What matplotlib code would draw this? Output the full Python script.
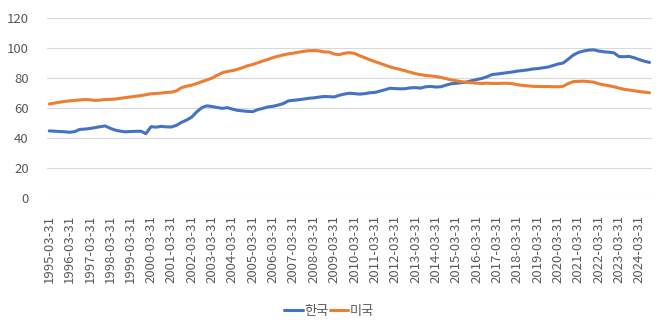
import matplotlib
matplotlib.use('Agg')
import matplotlib.pyplot as plt
import numpy as np

plt.rcParams['font.family'] = ['Noto Sans CJK KR', 'DejaVu Sans']

# quarterly dates 1995-03-31 ... 2024-09-30
quarters = [f'{y}-{md}' for y in range(1995, 2025) for md in ('03-31', '06-30', '09-30', '12-31')][:119]

korea = [
    44.8, 44.6, 44.4, 44.2,   # 1995
    43.9, 44.3, 45.8, 46.0,   # 1996
    46.4, 47.0, 47.6, 48.1,   # 1997
    46.5, 45.3, 44.6, 44.2,   # 1998
    44.4, 44.5, 44.6, 43.0,   # 1999
    47.6, 47.3, 47.8, 47.5,   # 2000
    47.4, 48.5, 50.5, 52.0,   # 2001
    54.0, 57.5, 60.3, 61.5,   # 2002
    61.0, 60.4, 59.8, 60.3,   # 2003
    59.3, 58.5, 58.1, 57.8,   # 2004
    57.6, 59.0, 59.8, 60.8,   # 2005
    61.2, 62.0, 63.0, 64.8,   # 2006
    65.2, 65.5, 66.0, 66.5,   # 2007
    66.8, 67.3, 67.7, 67.6,   # 2008
    67.4, 68.5, 69.3, 69.9,   # 2009
    69.6, 69.3, 69.6, 70.2,   # 2010
    70.4, 71.3, 72.2, 73.2,   # 2011
    73.0, 72.8, 72.9, 73.5,   # 2012
    73.6, 73.3, 74.2, 74.4,   # 2013
    74.0, 74.2, 75.3, 76.2,   # 2014
    76.5, 76.9, 77.3, 78.2,   # 2015
    79.0, 79.7, 80.8, 82.3,   # 2016
    82.7, 83.1, 83.6, 84.0,   # 2017
    84.6, 85.0, 85.4, 86.0,   # 2018
    86.3, 86.8, 87.3, 88.3,   # 2019
    89.3, 90.0, 92.5, 95.3,   # 2020
    97.0, 98.0, 98.6, 98.8,   # 2021
    98.0, 97.5, 97.2, 96.8,   # 2022
    94.3, 94.2, 94.4, 93.5,   # 2023
    92.3, 91.2, 90.4,         # 2024
]

usa = [
    62.7, 63.3, 63.9, 64.4,   # 1995
    64.8, 65.1, 65.4, 65.7,   # 1996
    65.5, 65.1, 65.3, 65.7,   # 1997
    65.8, 66.0, 66.5, 67.0,   # 1998
    67.4, 67.9, 68.3, 68.9,   # 1999
    69.5, 69.7, 70.0, 70.4,   # 2000
    70.6, 71.5, 73.6, 74.6,   # 2001
    75.3, 76.3, 77.6, 78.7,   # 2002
    80.0, 81.8, 83.5, 84.4,   # 2003
    84.9, 85.8, 86.9, 88.2,   # 2004
    89.0, 90.2, 91.4, 92.4,   # 2005
    93.6, 94.6, 95.4, 96.1,   # 2006
    96.6, 97.2, 97.8, 98.2,   # 2007
    98.3, 98.1, 97.4, 97.3,   # 2008
    96.0, 95.6, 96.5, 96.9,   # 2009
    96.4, 94.9, 93.6, 92.2,   # 2010
    91.0, 89.8, 88.6, 87.4,   # 2011
    86.5, 85.7, 84.8, 83.8,   # 2012
    82.9, 82.3, 81.7, 81.4,   # 2013
    81.0, 80.4, 79.6, 78.8,   # 2014
    78.2, 77.6, 77.2, 76.9,   # 2015
    76.6, 76.4, 76.6, 76.4,   # 2016
    76.4, 76.5, 76.5, 76.3,   # 2017
    75.6, 75.1, 74.8, 74.5,   # 2018
    74.4, 74.3, 74.4, 74.2,   # 2019
    74.2, 74.5, 76.3, 77.6,   # 2020
    77.8, 77.9, 77.6, 77.3,   # 2021
    76.2, 75.5, 74.9, 74.2,   # 2022
    73.3, 72.5, 72.0, 71.5,   # 2023
    71.0, 70.6, 70.2,         # 2024
]

x = np.arange(len(quarters))

fig = plt.figure(figsize=(6.58, 3.27), dpi=100)
ax = fig.add_axes([0.071, 0.394, 0.92, 0.551])

ax.plot(x, korea, color='#4472C4', lw=2.2, label='한국', solid_capstyle='round')
ax.plot(x, usa, color='#ED7D31', lw=2.2, label='미국', solid_capstyle='round')

ax.set_ylim(0, 120)
ax.set_yticks(range(0, 121, 20))
ax.set_xlim(-0.5, len(quarters) - 0.5)
tick_idx = [i for i, q in enumerate(quarters) if q.endswith('03-31')]
ax.set_xticks(tick_idx)
ax.set_xticklabels([quarters[i] for i in tick_idx], rotation=90)

ax.grid(axis='y', color='#D9D9D9', lw=0.8)
ax.set_axisbelow(True)
for s in ax.spines.values():
    s.set_visible(False)
ax.tick_params(axis='both', length=0, colors='#595959', labelsize=9.5)
ax.tick_params(axis='y', pad=13)
ax.tick_params(axis='x', pad=12)
for lbl in ax.get_xticklabels() + ax.get_yticklabels():
    lbl.set_fontweight('light')

leg = fig.legend(loc='center', bbox_to_anchor=(0.5, 0.048), ncol=2, frameon=False,
                 handlelength=1.4, handletextpad=0.1, columnspacing=0.1, fontsize=9.5)
for t in leg.get_texts():
    t.set_color('#595959')
    t.set_fontweight('light')

fig.savefig('out.png', dpi=100)
